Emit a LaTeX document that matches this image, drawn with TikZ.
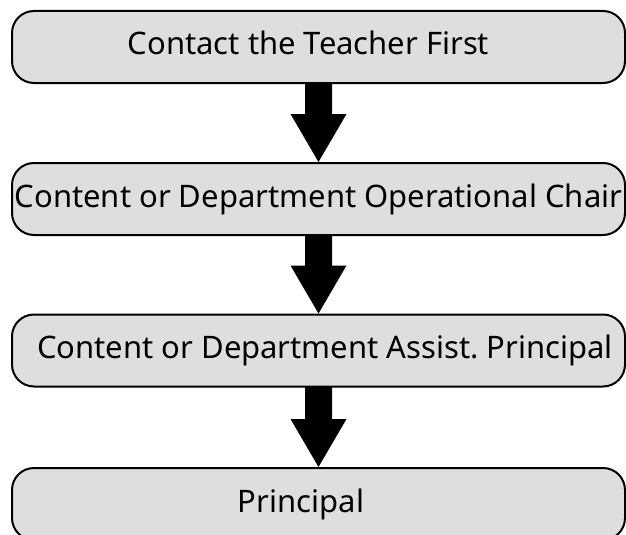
\documentclass[tikz,border=0pt]{standalone}
\usepackage{fontspec}
\setmainfont{Noto Sans}
\frenchspacing
\usetikzlibrary{calc}
\definecolor{boxfill}{RGB}{222,222,222}
\tikzset{
  stage/.style={draw=black, line width=2pt, fill=boxfill, rounded corners=22pt,
    minimum width=613pt, minimum height=72pt, inner sep=0pt},
  stagetext/.style={font=\fontsize{31}{36}\selectfont, inner sep=0pt, anchor=base},
  blockarrow/.style={fill=black}
}
\begin{document}
\begin{tikzpicture}[x=1pt, y=-1pt]
  \useasboundingbox (0,0) rectangle (626,535);
  \clip (0,0) rectangle (626,535);
  % the four stages of the escalation path
  \node[stage] (b1) at (318.5,47) {};
  \node[stage] (b2) at (318.5,199) {};
  \node[stage] (b3) at (318.5,350.5) {};
  \node[stage] (b4) at (318.5,504) {};
  \node[stagetext] (t1) at ($(b1.center)+(-10,8)$) {Contact the Teacher First};
  \node[stagetext] (t2) at ($(b2.center)+(0,8)$) {Content or Department Operational Chair};
  \node[stagetext] (t3) at ($(b3.center)+(6.5,8)$) {Content or Department Assist. Principal};
  \node[stagetext] (t4) at ($(b4.center)+(-17.5,8)$) {Principal};
  % thick block arrows between consecutive stages
  \foreach \a/\b in {b1/b2, b2/b3, b3/b4} {
    \fill[blockarrow]
      ($(\a.south)+(-13.5,-1)$) -- ($(\a.south)+(13.5,-1)$)
      -- ($(\b.north)+(13.5,-48)$) -- ($(\b.north)+(28,-48)$)
      -- (\b.north)
      -- ($(\b.north)+(-28,-48)$) -- ($(\b.north)+(-13.5,-48)$) -- cycle;
  }
\end{tikzpicture}
\end{document}
